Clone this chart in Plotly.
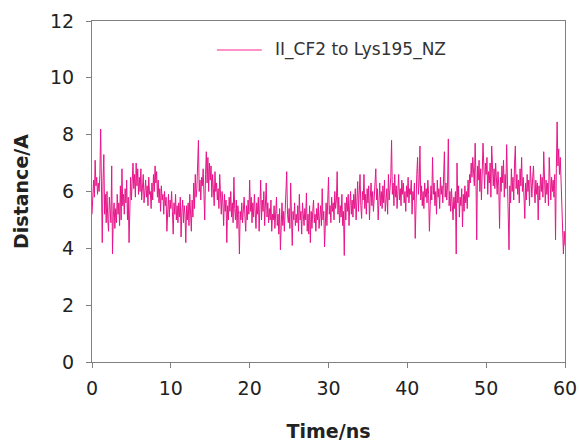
import plotly.graph_objects as go

# Time axis: 0.1 ns sampling, 0..60 ns
time_step_ns = 0.1

# Distance (Angstrom), one row per nanosecond (10 samples each)
distance = [
    5.2, 6.0, 6.4, 5.8, 7.1, 6.2, 6.5, 5.9, 6.3, 6.0,
    6.6, 8.2, 5.6, 4.2, 6.4, 7.3, 5.2, 5.9, 4.9, 6.0,
    5.0, 4.6, 5.8, 5.3, 4.9, 6.9, 3.8, 5.1, 5.6, 4.7,
    5.4, 4.9, 5.9, 5.2, 5.6, 4.8, 6.2, 5.0, 6.8, 5.5,
    5.9, 5.2, 6.1, 5.6, 6.4, 5.0, 5.8, 4.2, 6.0, 6.5,
    5.7, 6.3, 7.0, 6.1, 6.6, 5.8, 7.0, 6.2, 6.8, 5.9,
    6.5, 6.0, 6.8, 5.7, 6.3, 6.6, 5.6, 6.1, 6.4, 5.8,
    6.2, 5.5, 6.5, 5.9, 6.0, 5.4, 6.3, 5.7, 6.6, 6.0,
    6.9, 6.3, 6.7, 5.8, 6.4, 5.6, 6.1, 5.3, 6.2, 5.7,
    5.9, 5.2, 6.0, 5.5, 5.8, 4.6, 5.6, 5.9, 5.1, 5.7,
    5.4, 6.0, 5.3, 4.5, 5.6, 5.2, 5.9, 5.0, 5.5, 4.9,
    5.6, 5.1, 5.8, 4.4, 5.3, 5.7, 4.9, 5.5, 5.2, 4.2,
    5.5, 5.0, 5.6, 4.8, 5.9, 5.3, 4.6, 5.7, 5.1, 6.3,
    5.4, 6.6, 5.8, 6.1, 6.9, 7.8, 6.0, 6.4, 5.7, 6.5,
    6.2, 6.8, 5.9, 5.0, 6.6, 7.4, 6.3, 7.2, 6.0, 7.0,
    6.4, 6.9, 5.8, 6.6, 6.1, 5.5, 6.7, 6.0, 6.3, 5.7,
    6.1, 5.4, 6.6, 5.8, 5.2, 6.0, 5.6, 4.8, 5.9, 5.3,
    5.7, 4.2, 5.5, 5.0, 5.8, 5.3, 6.0, 5.1, 5.6, 4.9,
    6.5, 5.4, 5.0, 5.7, 4.7, 5.5, 5.2, 3.8, 5.3, 5.0,
    5.6, 4.9, 5.4, 5.8, 5.1, 4.6, 5.5, 5.0, 5.7, 5.2,
    6.4, 5.3, 5.8, 4.9, 5.6, 5.1, 5.9, 5.4, 4.7, 5.6,
    5.2, 5.8, 4.6, 5.5, 6.4, 5.0, 5.7, 5.3, 6.0, 4.8,
    5.5, 6.3, 5.1, 5.6, 4.9, 5.4, 5.0, 5.7, 4.6, 5.2,
    5.0, 5.5, 4.7, 5.3, 5.8, 4.8, 5.2, 4.5, 5.4, 3.95,
    5.1, 5.6, 4.8, 5.3, 4.6, 5.5, 6.2, 6.7, 5.2, 4.9,
    5.4, 4.7, 6.3, 5.1, 4.1, 5.3, 5.0, 5.6, 4.8, 5.2,
    4.9, 5.5, 4.6, 5.9, 5.0, 5.3, 4.5, 5.6, 5.1, 4.8,
    5.4, 5.0, 5.95, 4.6, 5.2, 4.5, 5.5, 4.2, 5.3, 4.7,
    5.3, 5.7, 4.9, 5.2, 4.6, 5.4, 5.0, 5.6, 4.7, 5.1,
    5.5, 4.8, 6.1, 5.0, 5.3, 4.05, 5.2, 5.6, 4.8, 5.4,
    6.5, 5.2, 5.5, 4.9, 5.8, 5.3, 5.6, 5.0, 6.0, 5.4,
    5.7, 6.7, 5.2, 5.8, 4.9, 5.5, 5.1, 5.9, 4.8, 5.3,
    3.75, 5.6, 5.0, 5.8, 5.3, 5.9, 4.8, 5.5, 6.0, 5.2,
    5.7, 5.1, 5.9, 5.4, 6.1, 5.0, 5.6, 6.35, 5.3, 5.8,
    6.6, 5.5, 5.05, 6.0, 5.7, 6.6, 5.4, 5.9, 5.2, 6.1,
    5.6, 6.2, 5.0, 5.8, 6.3, 5.5, 6.0, 5.3, 5.9, 6.4,
    6.8, 5.7, 6.1, 5.0, 5.8, 6.3, 5.5, 6.0, 5.4, 6.2,
    5.6, 6.4, 5.3, 5.9, 6.1, 5.2, 6.6, 5.7, 6.0, 6.5,
    7.8, 5.9, 6.3, 5.5, 6.6, 5.8, 6.2, 5.4, 6.0, 6.6,
    5.7, 6.1, 5.5, 6.4, 5.9, 6.3, 5.6, 6.0, 5.3, 6.2,
    5.8, 6.5, 5.6, 6.1, 5.9, 6.4, 5.2, 6.0, 5.7, 6.3,
    4.35, 6.0, 6.6, 7.2, 5.9, 6.3, 7.6, 5.7, 6.2, 5.5,
    6.0, 5.4, 6.3, 5.8, 6.1, 5.6, 6.4, 5.9, 4.6, 5.5,
    6.2, 5.7, 7.2, 5.9, 6.3, 5.5, 6.0, 5.2, 6.4, 5.8,
    6.1, 5.4, 6.5, 5.9, 6.2, 5.6, 6.6, 7.4, 5.8, 6.3,
    5.7, 6.2, 7.85, 5.5, 6.0, 5.3, 6.1, 5.6, 5.0, 5.8,
    5.4, 6.0, 3.8, 7.0, 5.6, 6.2, 5.1, 5.8, 5.5, 6.1,
    4.75, 5.9, 5.3, 6.2, 5.6, 6.0, 5.4, 6.4, 5.8, 6.6,
    6.3, 7.0, 6.5, 7.2, 6.8, 6.2, 7.7, 6.6, 4.3, 6.9,
    6.4, 7.1, 6.0, 6.8, 5.7, 7.3, 7.7, 6.9, 6.1, 7.0,
    6.6, 7.2, 5.9, 6.7, 6.3, 7.0, 5.8, 7.6, 6.9, 6.2,
    6.8, 6.1, 7.0, 6.4, 5.9, 6.7, 6.2, 4.7, 6.5, 6.0,
    6.9, 6.3, 7.1, 5.8, 6.6, 6.1, 7.65, 6.4, 5.5, 3.95,
    6.2, 5.6, 6.8, 6.0, 6.5, 5.7, 7.0, 7.6, 6.1, 6.6,
    5.9, 6.4, 5.6, 6.8, 6.2, 7.2, 6.0, 6.5, 5.8, 5.05,
    6.3, 5.7, 6.6, 6.0, 6.4, 5.5, 6.9, 6.2, 5.8, 6.5,
    6.9, 6.1, 5.6, 6.4, 5.9, 6.3, 5.0, 6.2, 5.7, 6.6,
    6.0, 6.5, 5.8, 7.4, 6.2, 5.6, 6.4, 5.9, 6.3, 5.5,
    7.2, 6.1, 5.7, 6.5, 6.0, 6.4, 5.8, 6.6, 4.3, 6.8,
    8.45, 6.9, 7.5, 6.6, 7.2, 6.4, 5.2, 4.3, 3.8, 4.6,
    4.1,
]
time_ns = [round(i * time_step_ns, 2) for i in range(len(distance))]

series_name = "II_CF2 to Lys195_NZ"
x_ticks = [0, 10, 20, 30, 40, 50, 60]
y_ticks = [0, 2, 4, 6, 8, 10, 12]

FONT = "'DejaVu Sans', sans-serif"
AXIS_COLOR = "#808080"
TEXT_COLOR = "#222222"
TRACE_COLOR = "#E6168A"
LEGEND_LINE_COLOR = "#FF6EB4"

fig = go.Figure()
fig.add_trace(go.Scatter(
    x=time_ns, y=distance, mode="lines", name=series_name,
    line=dict(color=TRACE_COLOR, width=1), showlegend=False,
))

# legend key (line sample + label) inside the plot area, top centre
fig.add_shape(type="line", xref="paper", yref="paper",
              x0=0.264, x1=0.359, y0=0.915, y1=0.915,
              line=dict(color=LEGEND_LINE_COLOR, width=1.5))
fig.add_annotation(text=series_name, xref="paper", yref="paper",
                   x=0.382, y=0.915, xanchor="left", yanchor="middle",
                   showarrow=False, font=dict(size=17, color="#333333", family=FONT))

fig.update_layout(
    width=579, height=442,
    margin=dict(l=92, r=14, t=21, b=80),
    paper_bgcolor="white", plot_bgcolor="white",
    font=dict(family=FONT, color=TEXT_COLOR, size=18),
    showlegend=False,
    xaxis=dict(
        range=[0, 60], tickvals=x_ticks, showgrid=False, zeroline=False,
        showline=True, linecolor=AXIS_COLOR, linewidth=1, mirror=True,
        ticks="outside", ticklen=5, tickcolor=AXIS_COLOR,
        ticklabelstandoff=4, automargin=False,
        tickfont=dict(size=19, color=TEXT_COLOR),
        title=dict(text="<b>Time/ns</b>", font=dict(size=19, color=TEXT_COLOR), standoff=28),
    ),
    yaxis=dict(
        range=[0, 12], tickvals=y_ticks, showgrid=False, zeroline=False,
        showline=True, linecolor=AXIS_COLOR, linewidth=1, mirror=True,
        ticks="outside", ticklen=5, tickcolor=AXIS_COLOR,
        ticklabelstandoff=8, automargin=False,
        tickfont=dict(size=19, color=TEXT_COLOR),
        title=dict(text="<b>Distance/A</b>", font=dict(size=19, color=TEXT_COLOR), standoff=16),
    ),
)

fig.write_html("out.html", config={"displayModeBar": False},
               post_script="document.body.style.margin='0px';")
